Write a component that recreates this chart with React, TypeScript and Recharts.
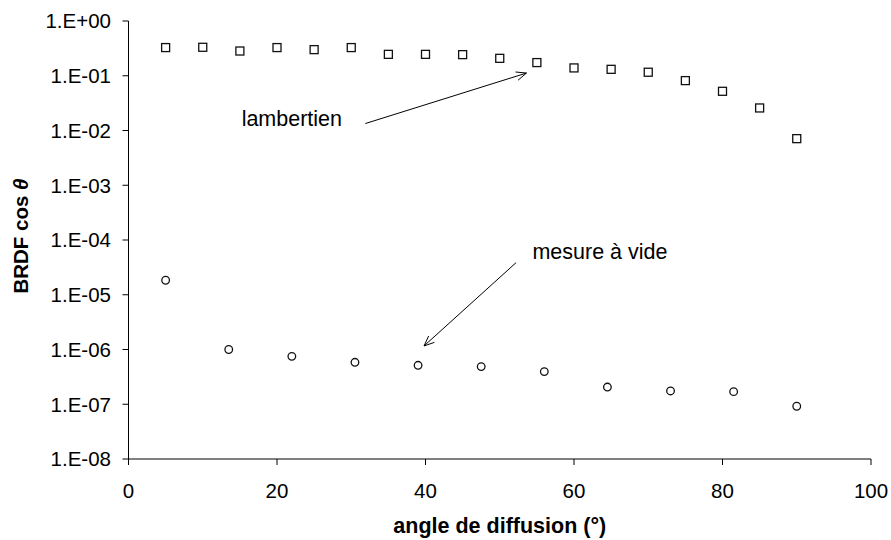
import React from 'react';
import {
  ScatterChart,
  Scatter,
  XAxis,
  YAxis,
  ReferenceLine,
  ReferenceDot,
} from 'recharts';

// ─── données ────────────────────────────────────────────────────────────────

const lambertAngles = [5, 10, 15, 20, 25, 30, 35, 40, 45, 50, 55, 60, 65, 70, 75, 80, 85, 90];
const lambertValues = [
  0.327, 0.331, 0.283, 0.327, 0.3, 0.327, 0.246, 0.246, 0.243,
  0.208, 0.174, 0.139, 0.131, 0.116, 0.0815, 0.052, 0.0258, 0.0071,
];

const videAngles = [5, 13.5, 22, 30.5, 39, 47.5, 56, 64.5, 73, 81.5, 90];
const videValues = [
  1.84e-5, 1.0e-6, 7.5e-7, 5.84e-7, 5.14e-7, 4.87e-7, 3.95e-7, 2.06e-7, 1.75e-7, 1.7e-7, 9.2e-8,
];

const xTicks = [0, 20, 40, 60, 80, 100];
const yTicks = [1, 1e-1, 1e-2, 1e-3, 1e-4, 1e-5, 1e-6, 1e-7, 1e-8];

// annotations (coordonnées en unités de données)
const lambertArrow = [{ x: 31.9, y: 0.0134 }, { x: 53.6, y: 0.112 }];
const lambertLabel = { x: 22.0, y: 0.0167, text: 'lambertien' };
const videArrow = [{ x: 52.2, y: 3.86e-5 }, { x: 39.8, y: 1.16e-6 }];
const videLabel = { x: 63.5, y: 6.3e-5, text: 'mesure à vide' };

// ─── styles ─────────────────────────────────────────────────────────────────

const FONT = '"Liberation Sans", Arial, sans-serif';
const INK = '#000000';

const lambertData = lambertAngles.map((x, i) => ({ x, y: lambertValues[i] }));
const videData = videAngles.map((x, i) => ({ x, y: videValues[i] }));

function formatExp(v: number) {
  const e = Math.round(Math.log10(v));
  return `1.E${e >= 0 ? '+' : '-'}${String(Math.abs(e)).padStart(2, '0')}`;
}

function SquareMark({ cx, cy }: any) {
  if (cx == null || cy == null) return null;
  return <rect x={cx - 4} y={cy - 4} width={8} height={8} fill="#fff" stroke="#111" strokeWidth={1.3} />;
}

function CircleMark({ cx, cy }: any) {
  if (cx == null || cy == null) return null;
  return <circle cx={cx} cy={cy} r={3.8} fill="#fff" stroke="#111" strokeWidth={1.3} />;
}

function Arrow({ x1, y1, x2, y2 }: any) {
  const a = Math.atan2(y2 - y1, x2 - x1);
  const len = 11;
  const spread = 0.4;
  const p1 = `${x2 - len * Math.cos(a - spread)},${y2 - len * Math.sin(a - spread)}`;
  const p2 = `${x2 - len * Math.cos(a + spread)},${y2 - len * Math.sin(a + spread)}`;
  return (
    <g>
      <line x1={x1} y1={y1} x2={x2} y2={y2} stroke={INK} strokeWidth={1} />
      <polyline points={`${p1} ${x2},${y2} ${p2}`} fill="none" stroke={INK} strokeWidth={1} />
    </g>
  );
}

function YTitle() {
  const cx = 20.5;
  const cy = 236;
  return (
    <text
      x={cx}
      y={cy}
      transform={`rotate(-90, ${cx}, ${cy})`}
      textAnchor="middle"
      dy="0.36em"
      fontFamily={FONT}
      fontSize={20.5}
      fontWeight="bold"
      fill={INK}
    >
      BRDF cos <tspan fontStyle="italic">θ</tspan>
    </text>
  );
}

function XTitle({ viewBox }: any) {
  const x = viewBox.x + viewBox.width / 2;
  return (
    <text x={x} y={533} textAnchor="middle" fontFamily={FONT} fontSize={21.5} fontWeight="bold" fill={INK}>
      angle de diffusion (°)
    </text>
  );
}

export default function App() {
  const tickStyle = { fill: INK, fontSize: 20.5, fontFamily: FONT };
  const labelStyle = { fill: INK, fontSize: 21.5, fontFamily: FONT };

  return (
    <div style={{ position: 'absolute', left: 0, top: 0, width: 891, height: 540, background: '#fff' }}>
      <ScatterChart width={891} height={540} margin={{ top: 21, right: 20, left: 0, bottom: 0 }}>
        <XAxis
          type="number"
          dataKey="x"
          domain={[0, 100]}
          ticks={xTicks}
          height={81}
          tickSize={6}
          tickMargin={18}
          tick={tickStyle}
          axisLine={{ stroke: INK }}
          tickLine={{ stroke: INK }}
          label={<XTitle />}
        />
        <YAxis
          type="number"
          dataKey="y"
          scale="log"
          domain={[1e-8, 1]}
          allowDataOverflow
          ticks={yTicks}
          tickFormatter={formatExp}
          width={128.5}
          tickSize={6}
          tickMargin={11.5}
          tick={tickStyle}
          axisLine={{ stroke: INK }}
          tickLine={{ stroke: INK }}
          label={<YTitle />}
        />
        <Scatter data={lambertData} shape={<SquareMark />} isAnimationActive={false} />
        <Scatter data={videData} shape={<CircleMark />} isAnimationActive={false} />
        <ReferenceLine segment={lambertArrow} shape={<Arrow />} />
        <ReferenceLine segment={videArrow} shape={<Arrow />} />
        <ReferenceDot
          x={lambertLabel.x}
          y={lambertLabel.y}
          r={0}
          fill="none"
          stroke="none"
          label={{ value: lambertLabel.text, position: 'center', ...labelStyle }}
        />
        <ReferenceDot
          x={videLabel.x}
          y={videLabel.y}
          r={0}
          fill="none"
          stroke="none"
          label={{ value: videLabel.text, position: 'center', ...labelStyle }}
        />
      </ScatterChart>
    </div>
  );
}
